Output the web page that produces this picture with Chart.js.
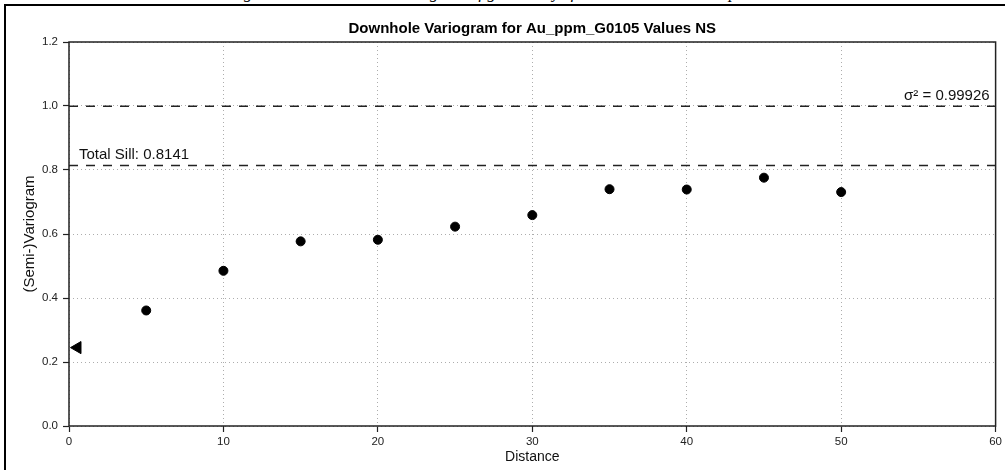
<!DOCTYPE html>
<html>
<head>
<meta charset="utf-8">
<script src="https://cdn.jsdelivr.net/npm/chart.js@4.4.0/dist/chart.umd.min.js"></script>
<style>
  html, body { margin: 0; padding: 0; background: #fff; overflow: hidden; }
  #wrap { position: relative; width: 1005px; height: 470px; }
  #frame { position: absolute; left: 4px; top: 4px; width: 1010px; height: 480px;
           border-left: 2px solid #000; border-top: 2px solid #000; }
  #caption { position: absolute; left: 0; width: 1005px; top: -17px; text-align: center;
             font: italic 17px "Liberation Serif", "DejaVu Serif", serif; color: #000; }
  canvas { position: absolute; left: 0; top: 0; }
</style>
</head>
<body>
<div id="wrap">
  <div id="caption">Figure 14-6: Downhole variogram of gold assays for domain G0105 composites</div>
  <div id="frame"></div>
  <canvas id="chart" width="1005" height="470"></canvas>
</div>
<script>
// Experimental variogram points (lag distance, semi-variance)
const lagDistance = [5, 10, 15, 20, 25, 30, 35, 40, 45, 50];
const semiVariance = [0.361, 0.485, 0.577, 0.582, 0.623, 0.659, 0.740, 0.739, 0.776, 0.731];

// Nugget marker
const nuggetPoint = [{ x: 0.55, y: 0.245 }];

// Reference lines
const totalSill = 0.8141;
const sampleVariance = 0.99926;

const xTicks = [0, 10, 20, 30, 40, 50, 60];
const yTicks = [0.0, 0.2, 0.4, 0.6, 0.8, 1.0, 1.2];

const chartTitle = "Downhole Variogram for Au_ppm_G0105 Values NS";

const FONT = "'Liberation Sans', Arial, sans-serif";

// Draw the title, the frame around the plot area and the two line labels
const framePlugin = {
  id: "framePlugin",
  afterDatasetsDraw(chart) {
    const { ctx, chartArea, scales } = chart;
    ctx.save();
    ctx.strokeStyle = "#222";
    ctx.lineWidth = 1.5;
    ctx.strokeRect(chartArea.left, chartArea.top,
      chartArea.right - chartArea.left, chartArea.bottom - chartArea.top);

    // title centred over the plot area
    ctx.fillStyle = "#000";
    ctx.font = "bold 15px " + FONT;
    ctx.textAlign = "center";
    ctx.textBaseline = "middle";
    ctx.fillText(chartTitle, (chartArea.left + chartArea.right) / 2, 29);

    ctx.fillStyle = "#111";
    ctx.font = "15px " + FONT;
    ctx.textBaseline = "bottom";
    ctx.textAlign = "left";
    ctx.fillText("Total Sill: " + totalSill, chartArea.left + 10, scales.y.getPixelForValue(totalSill) - 3);
    ctx.textAlign = "right";
    ctx.fillText("\u03c3\u00b2 = " + sampleVariance, chartArea.right - 6, scales.y.getPixelForValue(sampleVariance) - 3);
    ctx.restore();
  },
};

const hLine = (v) => [{ x: xTicks[0], y: v }, { x: xTicks[xTicks.length - 1], y: v }];

const data = {
  datasets: [
    {
      type: "line",
      data: hLine(sampleVariance),
      borderColor: "#222",
      borderWidth: 1.5,
      borderDash: [9, 8],
      pointRadius: 0,
      fill: false,
    },
    {
      type: "line",
      data: hLine(totalSill),
      borderColor: "#222",
      borderWidth: 1.5,
      borderDash: [9, 8],
      pointRadius: 0,
      fill: false,
    },
    {
      data: lagDistance.map((d, i) => ({ x: d, y: semiVariance[i] })),
      backgroundColor: "#000",
      borderColor: "#000",
      pointRadius: 4.5,
      pointStyle: "circle",
    },
    {
      data: nuggetPoint,
      backgroundColor: "#000",
      borderColor: "#000",
      pointRadius: 7,
      pointStyle: "triangle",
      rotation: 270,
    },
  ],
};

const gridOpts = {
  color: "#adadad",
  lineWidth: 1,
  tickColor: "#222",
  tickLength: 6,
  tickWidth: 1.2,
  tickBorderDash: [],
};

const config = {
  type: "scatter",
  data: data,
  plugins: [framePlugin],
  options: {
    responsive: false,
    animation: false,
    layout: { padding: { left: 0, right: 9, top: 42, bottom: 0 } },
    plugins: {
      legend: { display: false },
      tooltip: { enabled: false },
      title: { display: false },
    },
    scales: {
      x: {
        type: "linear",
        min: 0,
        max: 60,
        afterBuildTicks: (s) => { s.ticks = xTicks.map((v) => ({ value: v })); },
        afterFit: (s) => { s.height = 44; },
        border: { display: false, dash: [1, 3] },
        grid: gridOpts,
        ticks: { color: "#222", font: { family: FONT, size: 11.5 }, padding: 3 },
        title: {
          display: true,
          text: "Distance",
          color: "#111",
          font: { family: FONT, size: 14 },
          padding: { top: 0, bottom: 4 },
        },
      },
      y: {
        type: "linear",
        min: 0,
        max: 1.2,
        afterBuildTicks: (s) => { s.ticks = yTicks.map((v) => ({ value: v })); },
        afterFit: (s) => { s.width = 69; },
        border: { display: false, dash: [1, 3] },
        grid: gridOpts,
        ticks: {
          color: "#222",
          font: { family: FONT, size: 11.5 },
          padding: 5,
          callback: (v) => v.toFixed(1),
        },
        title: {
          display: true,
          text: "(Semi-)Variogram",
          color: "#111",
          font: { family: FONT, size: 15 },
          padding: { top: 21, bottom: 0 },
        },
      },
    },
  },
};

const variogramChart = new Chart(document.getElementById("chart"), config);
</script>
</body>
</html>
